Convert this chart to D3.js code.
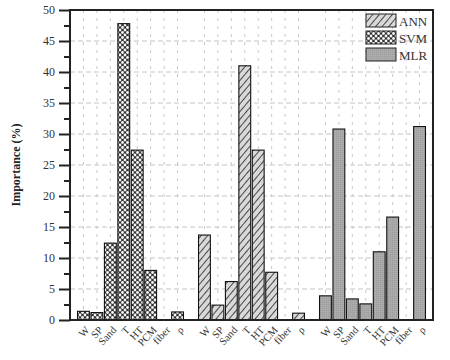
<!DOCTYPE html>
<html>
<head>
<meta charset="utf-8">
<script src="https://cdn.jsdelivr.net/npm/d3@7"></script>
<style>
  body { margin: 0; background: #fff; }
  text { font-family: "Liberation Serif", "DejaVu Serif", serif; }
</style>
</head>
<body>
<script>
// data
const features = ["W", "SP", "Sand", "T", "HT", "PCM", "fiber", "ρ"];
const groups = ["SVM", "ANN", "MLR"];          // left-to-right order of the groups
const legendOrder = ["ANN", "SVM", "MLR"];
const svmValues = [1.4, 1.2, 12.4, 47.8, 27.4, 8.0, 0, 1.3];
const annValues = [13.7, 2.4, 6.2, 41.0, 27.4, 7.7, 0, 1.1];
const mlrValues = [3.9, 30.8, 3.4, 2.6, 11.0, 16.6, 0, 31.2];
const yTicks = [0, 5, 10, 15, 20, 25, 30, 35, 40, 45, 50];

const valuesByGroup = { SVM: svmValues, ANN: annValues, MLR: mlrValues };

const w = 450, h = 360;
const padL = 70, padR = 433, padT = 10, padB = 320;

const svg = d3.select("body").append("svg")
  .attr("width", w).attr("height", h);

// patterns
const defs = svg.append("defs");
const pAnn = defs.append("pattern").attr("id", "pANN")
  .attr("patternUnits", "userSpaceOnUse").attr("width", 5).attr("height", 5)
  .attr("patternTransform", "rotate(40)");
pAnn.append("rect").attr("width", 5).attr("height", 5).attr("fill", "#d9d9d9");
pAnn.append("line").attr("x1", 0).attr("y1", 0).attr("x2", 0).attr("y2", 5)
  .attr("stroke", "#222").attr("stroke-width", 1.6);

const pSvm = defs.append("pattern").attr("id", "pSVM")
  .attr("patternUnits", "userSpaceOnUse").attr("width", 5).attr("height", 5);
pSvm.append("rect").attr("width", 5).attr("height", 5).attr("fill", "#303030");
[[0, 0], [5, 0], [0, 5], [5, 5], [2.5, 2.5]].forEach(c => {
  pSvm.append("circle").attr("cx", c[0]).attr("cy", c[1]).attr("r", 1.4).attr("fill", "#f6f6f6");
});

const pMlr = defs.append("pattern").attr("id", "pMLR")
  .attr("patternUnits", "userSpaceOnUse").attr("width", 2).attr("height", 2);
pMlr.append("rect").attr("width", 2).attr("height", 2).attr("fill", "#ababab");
pMlr.append("rect").attr("width", 1).attr("height", 1).attr("fill", "#9a9a9a");

const fills = { ANN: "url(#pANN)", SVM: "url(#pSVM)", MLR: "url(#pMLR)" };

// flatten into slots: each group takes 8 slots + 1 gap
const bars = [];
groups.forEach((g, gi) => {
  features.forEach((f, fi) => {
    bars.push({ group: g, feature: f, value: valuesByGroup[g][fi], pos: gi * 9 + fi + 1 });
  });
});

const x = d3.scaleLinear().domain([0, 27]).range([padL, padR]);
const y = d3.scaleLinear().domain([0, 50]).range([padB, padT]);
const barW = (x(1) - x(0)) * 0.88;

// grid
svg.append("g").selectAll("line").data(yTicks.filter(t => t > 0 && t < 50)).enter()
  .append("line")
  .attr("x1", padL).attr("x2", padR)
  .attr("y1", d => y(d)).attr("y2", d => y(d))
  .attr("stroke", "#c4c4c4").attr("stroke-width", 1).attr("stroke-dasharray", "5,3");
svg.append("g").selectAll("line").data(bars).enter()
  .append("line")
  .attr("x1", d => x(d.pos)).attr("x2", d => x(d.pos))
  .attr("y1", padT).attr("y2", padB)
  .attr("stroke", "#c8c8c8").attr("stroke-width", 1).attr("stroke-dasharray", "3,5");

// bars
svg.append("g").selectAll("rect").data(bars.filter(d => d.value > 0)).enter()
  .append("rect")
  .attr("x", d => x(d.pos) - barW / 2)
  .attr("y", d => y(d.value))
  .attr("width", barW)
  .attr("height", d => y(0) - y(d.value))
  .attr("fill", d => fills[d.group])
  .attr("stroke", "#111").attr("stroke-width", 1.1);

// frame
svg.append("rect").attr("x", padL).attr("y", padT)
  .attr("width", padR - padL).attr("height", padB - padT)
  .attr("fill", "none").attr("stroke", "#222").attr("stroke-width", 2);

// y axis
const yAxis = d3.axisLeft(y).tickValues(yTicks).tickSize(11).tickPadding(4);
const ya = svg.append("g").attr("transform", "translate(" + padL + ",0)").call(yAxis);
ya.select(".domain").remove();
ya.selectAll(".tick line").attr("stroke", "#222").attr("stroke-width", 2);
ya.selectAll(".tick text").attr("font-size", 12).attr("fill", "#333")
  .attr("font-family", "Liberation Serif, serif");
const yMinor = d3.axisLeft(y).tickValues(d3.range(2.5, 50, 5)).tickSize(6).tickFormat("");
const ym = svg.append("g").attr("transform", "translate(" + padL + ",0)").call(yMinor);
ym.select(".domain").remove();
ym.selectAll(".tick line").attr("stroke", "#222").attr("stroke-width", 2);

// x labels
svg.append("g").selectAll("text").data(bars).enter()
  .append("text")
  .attr("transform", d => "translate(" + (x(d.pos) + 4) + "," + (padB + 8) + ") rotate(-47)")
  .attr("text-anchor", "end")
  .attr("dy", "0.35em")
  .attr("font-size", 10.5)
  .attr("fill", "#333")
  .text(d => d.feature);

// y title
svg.append("text")
  .attr("transform", "translate(20," + ((padT + padB) / 2) + ") rotate(-90)")
  .attr("text-anchor", "middle")
  .attr("font-size", 12).attr("font-weight", "bold").attr("fill", "#222")
  .text("Importance (%)");

// legend
const lg = svg.append("g").attr("transform", "translate(366,14)");
legendOrder.forEach((g, i) => {
  const row = lg.append("g").attr("transform", "translate(0," + (i * 17) + ")");
  row.append("rect").attr("width", 30).attr("height", 13)
    .attr("fill", fills[g]).attr("stroke", "#222").attr("stroke-width", 1);
  row.append("text").attr("x", 33).attr("y", 7).attr("dy", "0.35em")
    .attr("font-size", 13).attr("fill", "#333").text(g);
});
</script>
</body>
</html>
